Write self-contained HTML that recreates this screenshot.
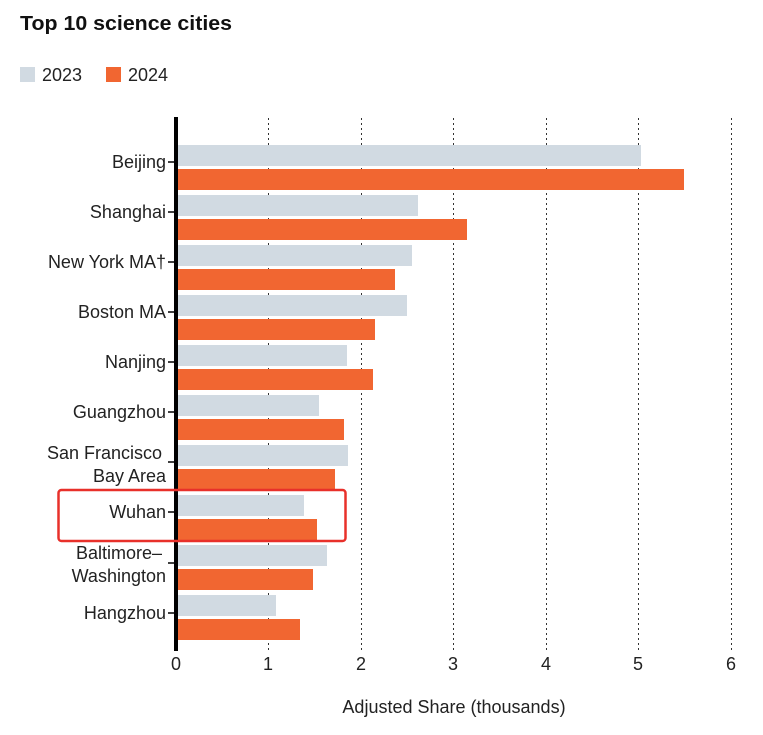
<!DOCTYPE html>
<html><head><style>
body{margin:0;background:#fff;}
svg text{font-family:"Liberation Sans",sans-serif;}
</style></head><body>
<svg width="763" height="730" xmlns="http://www.w3.org/2000/svg">
<text x="20" y="30" font-size="20" font-weight="bold" fill="#111" textLength="212" lengthAdjust="spacingAndGlyphs">Top 10 science cities</text>
<rect x="20" y="67" width="15" height="15" fill="#d1dae2"/>
<text x="42" y="81" font-size="18" fill="#222">2023</text>
<rect x="106" y="67" width="15" height="15" fill="#f16631"/>
<text x="128" y="81" font-size="18" fill="#222">2024</text>
<g stroke="#333" stroke-width="1" stroke-dasharray="2,3">
<line x1="268.5" y1="118" x2="268.5" y2="650"/>
<line x1="361.5" y1="118" x2="361.5" y2="650"/>
<line x1="453.5" y1="118" x2="453.5" y2="650"/>
<line x1="546.5" y1="118" x2="546.5" y2="650"/>
<line x1="638.5" y1="118" x2="638.5" y2="650"/>
<line x1="731.5" y1="118" x2="731.5" y2="650"/>
</g>
<g fill="#d1dae2">
<rect x="178" y="145" width="463" height="21"/>
<rect x="178" y="195" width="240" height="21"/>
<rect x="178" y="245" width="234" height="21"/>
<rect x="178" y="295" width="229" height="21"/>
<rect x="178" y="345" width="169" height="21"/>
<rect x="178" y="395" width="141" height="21"/>
<rect x="178" y="445" width="170" height="21"/>
<rect x="178" y="495" width="126" height="21"/>
<rect x="178" y="545" width="149" height="21"/>
<rect x="178" y="595" width="98" height="21"/>
</g>
<g fill="#f16631">
<rect x="178" y="169" width="506" height="21"/>
<rect x="178" y="219" width="289" height="21"/>
<rect x="178" y="269" width="217" height="21"/>
<rect x="178" y="319" width="197" height="21"/>
<rect x="178" y="369" width="195" height="21"/>
<rect x="178" y="419" width="166" height="21"/>
<rect x="178" y="469" width="157" height="21"/>
<rect x="178" y="519" width="139" height="21"/>
<rect x="178" y="569" width="135" height="21"/>
<rect x="178" y="619" width="122" height="21"/>
</g>
<rect x="174" y="117" width="4" height="534" fill="#000"/>
<g stroke="#000" stroke-width="1.5">
<line x1="168" y1="162" x2="174" y2="162"/><line x1="168" y1="212" x2="174" y2="212"/>
<line x1="168" y1="262" x2="174" y2="262"/><line x1="168" y1="312" x2="174" y2="312"/>
<line x1="168" y1="362" x2="174" y2="362"/><line x1="168" y1="412" x2="174" y2="412"/>
<line x1="168" y1="462" x2="174" y2="462"/><line x1="168" y1="512" x2="174" y2="512"/>
<line x1="168" y1="563" x2="174" y2="563"/><line x1="168" y1="613" x2="174" y2="613"/>
</g>
<g font-size="18" fill="#222" text-anchor="end">
<text x="166" y="168">Beijing</text>
<text x="166" y="218">Shanghai</text>
<text x="166" y="268">New York MA†</text>
<text x="166" y="318">Boston MA</text>
<text x="166" y="368">Nanjing</text>
<text x="166" y="418">Guangzhou</text>
<text x="162" y="459">San Francisco</text>
<text x="166" y="482">Bay Area</text>
<text x="166" y="518">Wuhan</text>
<text x="162" y="559">Baltimore–</text>
<text x="166" y="582">Washington</text>
<text x="166" y="619">Hangzhou</text>
</g>
<g font-size="18" fill="#222" text-anchor="middle">
<text x="176" y="670">0</text><text x="268" y="670">1</text><text x="361" y="670">2</text>
<text x="453" y="670">3</text><text x="546" y="670">4</text><text x="638" y="670">5</text><text x="731" y="670">6</text>
<text x="454" y="713">Adjusted Share (thousands)</text>
</g>
<rect x="58.5" y="490" width="287" height="51" rx="3" fill="none" stroke="#e8302a" stroke-width="2.5"/>
</svg>
</body></html>
